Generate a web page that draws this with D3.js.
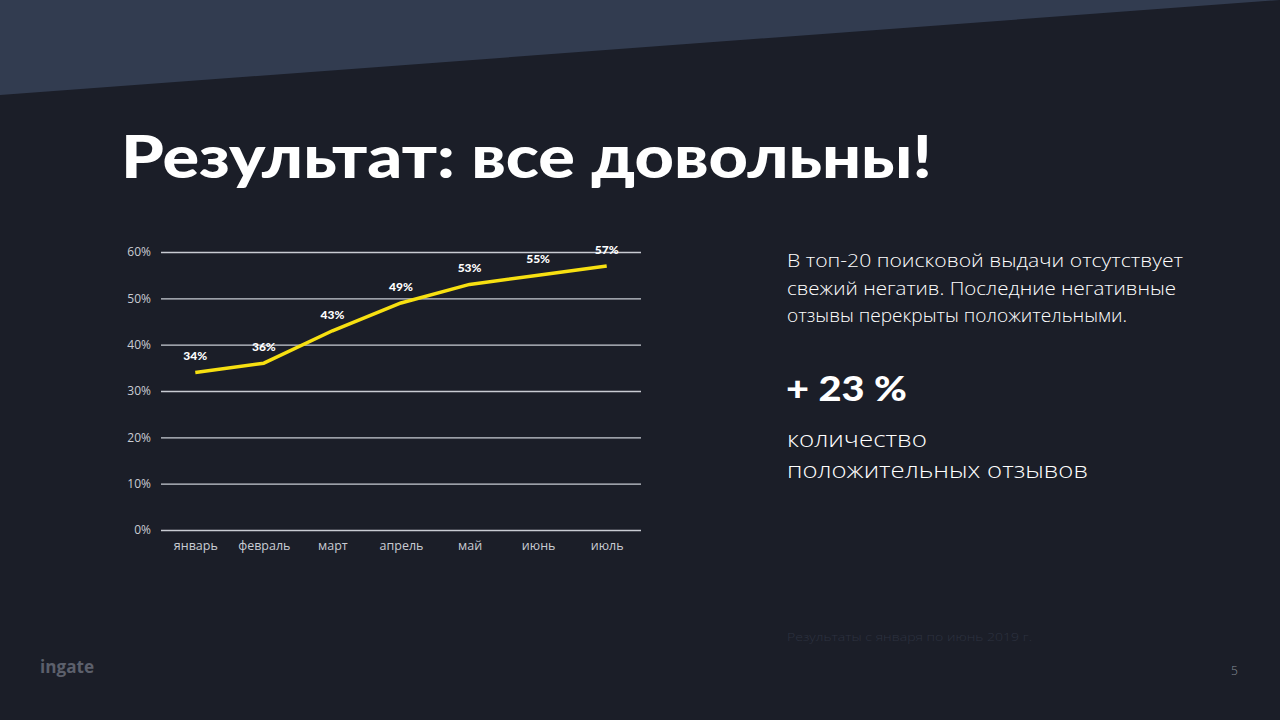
<!DOCTYPE html>
<html><head><meta charset="utf-8">
<script src="https://cdn.jsdelivr.net/npm/d3@7/dist/d3.min.js"></script>
<style>
html,body{margin:0;padding:0;background:#1b1e28;}
svg{display:block;}
</style></head>
<body>
<svg id="chart" width="1280" height="720"></svg>
<script>
const months = ["январь","февраль","март","апрель","май","июнь","июль"];
const values = [34, 36, 43, 49, 53, 55, 57];
const yTicks = [0, 10, 20, 30, 40, 50, 60];

const svg = d3.select("#chart");
svg.append("rect").attr("width",1280).attr("height",720).attr("fill","#1b1e28");
svg.append("polygon").attr("points","0,0 1280,0 1280,0 0,95").attr("fill","#323c50");

svg.append("text").attr("x",121).attr("y",178)
  .attr("font-family","Lato, 'Open Sans', sans-serif").attr("font-weight",900)
  .attr("font-size",59).attr("fill","#ffffff")
  .attr("textLength",811).attr("lengthAdjust","spacingAndGlyphs")
  .text("Результат: все довольны!");

const x = d3.scalePoint().domain(months).range([161,641]).padding(0.5);
const y = d3.scaleLinear().domain([0,60]).range([530,252]);

const g = svg.append("g");
const yAxis = d3.axisLeft(y).tickValues(yTicks).tickFormat(d=>d+"%").tickSize(-480).tickPadding(10);
const ya = g.append("g").attr("transform","translate(161,0)").call(yAxis);
ya.select(".domain").remove();
ya.selectAll(".tick line").attr("stroke","#c9ccd3").attr("stroke-width",1.3);
ya.selectAll(".tick text").attr("fill","#c9ccd3").attr("font-family","'Open Sans', sans-serif").attr("font-size",12);

const xAxis = d3.axisBottom(x).tickSize(0).tickPadding(8);
const xa = g.append("g").attr("transform","translate(0,533)").call(xAxis);
xa.select(".domain").remove();
xa.selectAll(".tick text").attr("fill","#c9ccd3").attr("font-family","'Open Sans', sans-serif").attr("font-size",12.5);

const line = d3.line().x((d,i)=>x(months[i])).y(d=>y(d));
g.append("path").datum(values).attr("d",line).attr("fill","none")
  .attr("stroke","#f7e011").attr("stroke-width",3.5).attr("stroke-linejoin","round");

g.selectAll(".lbl").data(values).enter().append("text")
  .attr("x",(d,i)=>x(months[i])).attr("y",d=>y(d)-12)
  .attr("text-anchor","middle").attr("fill","#ffffff")
  .attr("font-family","Lato, 'Open Sans', sans-serif").attr("font-weight",900).attr("font-size",12)
  .text(d=>d+"%");

const body = ["В топ-20 поисковой выдачи отсутствует","свежий негатив. Последние негативные","отзывы перекрыты положительными."];
const bodyW = [396, 389, 340];
svg.append("g").selectAll("text").data(body).enter().append("text")
  .attr("x",787).attr("y",(d,i)=>267+i*27.5)
  .attr("font-family","'Open Sans', sans-serif").attr("font-weight",300).attr("font-size",18)
  .attr("textLength",(d,i)=>bodyW[i]).attr("lengthAdjust","spacingAndGlyphs")
  .attr("fill","#ffffff").text(d=>d);

svg.append("text").attr("x",786).attr("y",401)
  .attr("font-family","Lato, 'Open Sans', sans-serif").attr("font-weight",900).attr("font-size",34)
  .attr("textLength",121).attr("lengthAdjust","spacingAndGlyphs")
  .attr("fill","#ffffff").text("+ 23 %");

const sub = ["количество","положительных отзывов"];
const subW = [140, 301];
svg.append("g").selectAll("text").data(sub).enter().append("text")
  .attr("x",787).attr("y",(d,i)=>447+i*31)
  .attr("font-family","'Open Sans', sans-serif").attr("font-weight",300).attr("font-size",22)
  .attr("textLength",(d,i)=>subW[i]).attr("lengthAdjust","spacingAndGlyphs")
  .attr("fill","#ffffff").text(d=>d);

svg.append("text").attr("x",787).attr("y",641)
  .attr("font-family","'Open Sans', sans-serif").attr("font-weight",300).attr("font-size",11)
  .attr("textLength",245).attr("lengthAdjust","spacingAndGlyphs")
  .attr("fill","#2d3240").text("Результаты с января по июнь 2019 г.");

svg.append("text").attr("x",40).attr("y",673)
  .attr("font-family","'Open Sans', sans-serif").attr("font-weight",700).attr("font-size",17)
  .attr("textLength",54).attr("lengthAdjust","spacingAndGlyphs")
  .attr("fill","#5c606c").text("ingate");

svg.append("text").attr("x",1231).attr("y",675)
  .attr("font-family","'Open Sans', sans-serif").attr("font-weight",300).attr("font-size",12)
  .attr("fill","#8a8e99").text("5");
</script>
</body></html>
